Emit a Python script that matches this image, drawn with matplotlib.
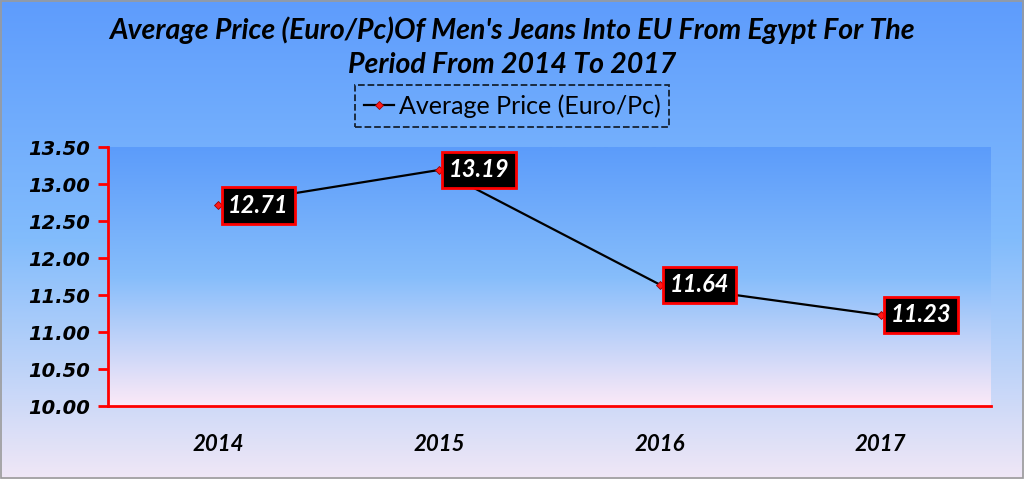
import numpy as np
import matplotlib
matplotlib.use('Agg')
import matplotlib.pyplot as plt
from matplotlib.colors import LinearSegmentedColormap
from matplotlib.patches import Rectangle

years = ['2014', '2015', '2016', '2017']
prices = [12.71, 13.19, 11.64, 11.23]
y_ticks = [10.00, 10.50, 11.00, 11.50, 12.00, 12.50, 13.00, 13.50]
series_name = 'Average Price (Euro/Pc)'
title = ("Average Price (Euro/Pc)Of Men's Jeans Into EU From Egypt For The\n"
         "Period From 2014 To 2017")

label_font = 'Lato'

fig = plt.figure(figsize=(10.24, 4.79), dpi=100)

# outer background gradient
bg = fig.add_axes([0, 0, 1, 1], zorder=-10)
outer = LinearSegmentedColormap.from_list('outer', ['#5e9cfd', '#82bcfc', '#f0e7f6'])
bg.imshow(np.linspace(0, 1, 256).reshape(-1, 1), aspect='auto', cmap=outer,
          extent=[0, 1, 0, 1], origin='upper')
bg.set_xlim(0, 1)
bg.set_ylim(0, 1)
bg.axis('off')
bg.add_patch(Rectangle((0.001, 0.002), 0.998, 0.996, fill=False,
                       ec='#9a9a9a', lw=1.2, transform=bg.transAxes))

ax = fig.add_axes([0.1055, 0.1524, 0.8623, 0.5407])
inner = LinearSegmentedColormap.from_list('inner', ['#5c9cfa', '#86bdfb', '#fce9f7'])
x = np.arange(len(years))
ax.set_xlim(-0.5, len(years) - 0.5)
ax.set_ylim(10, 13.5)
ax.imshow(np.linspace(0, 1, 256).reshape(-1, 1), aspect='auto', cmap=inner,
          extent=[-0.5, len(years) - 0.5, 10, 13.5], origin='upper', zorder=0)

ax.plot(x, prices, color='black', lw=1.6, marker='D', ms=4.5,
        mfc='#ff1a1a', mec='#a00000', mew=0.6, label=series_name, zorder=3)

for xi, p in zip(x, prices):
    ax.annotate(f'{p:.2f}', (xi, p), xytext=(7, 0), textcoords='offset points',
                ha='left', va='center', color='white', fontsize=17,
                fontweight='bold', fontstyle='italic', family=label_font,
                bbox=dict(boxstyle='square,pad=0.28', fc='black', ec='#ff0000', lw=2),
                zorder=5)

for side in ['top', 'right']:
    ax.spines[side].set_visible(False)
ax.spines['left'].set_color('#ff0000')
ax.spines['bottom'].set_color('#ff0000')
ax.spines['left'].set_linewidth(2)
ax.spines['bottom'].set_linewidth(2)

ax.set_yticks(y_ticks)
ax.set_yticklabels([f'{v:.2f}' for v in y_ticks], fontsize=14,
                   fontweight='bold', fontstyle='italic')
ax.tick_params(axis='y', colors='#ff0000', labelcolor='black', length=7,
               width=2, pad=6)
ax.set_xticks(x)
ax.set_xticklabels(years, fontsize=16, fontweight='bold', fontstyle='italic',
                   family=label_font)
ax.tick_params(axis='x', length=0, pad=20)

fig.text(0.5, 0.902, title, ha='center', va='center', fontsize=20.5,
         fontweight='bold', fontstyle='italic', family=label_font,
         linespacing=1.4)

leg = fig.legend(loc='center', bbox_to_anchor=(0.5, 0.7787),
                 prop=dict(family=label_font, size=18), frameon=True,
                 fancybox=False, handlelength=1.2, handletextpad=0.2,
                 borderpad=0.35, borderaxespad=0)
frame = leg.get_frame()
frame.set_facecolor('none')
frame.set_edgecolor('black')
frame.set_linestyle('--')
frame.set_linewidth(1.3)

fig.savefig('out.png', dpi=100)
